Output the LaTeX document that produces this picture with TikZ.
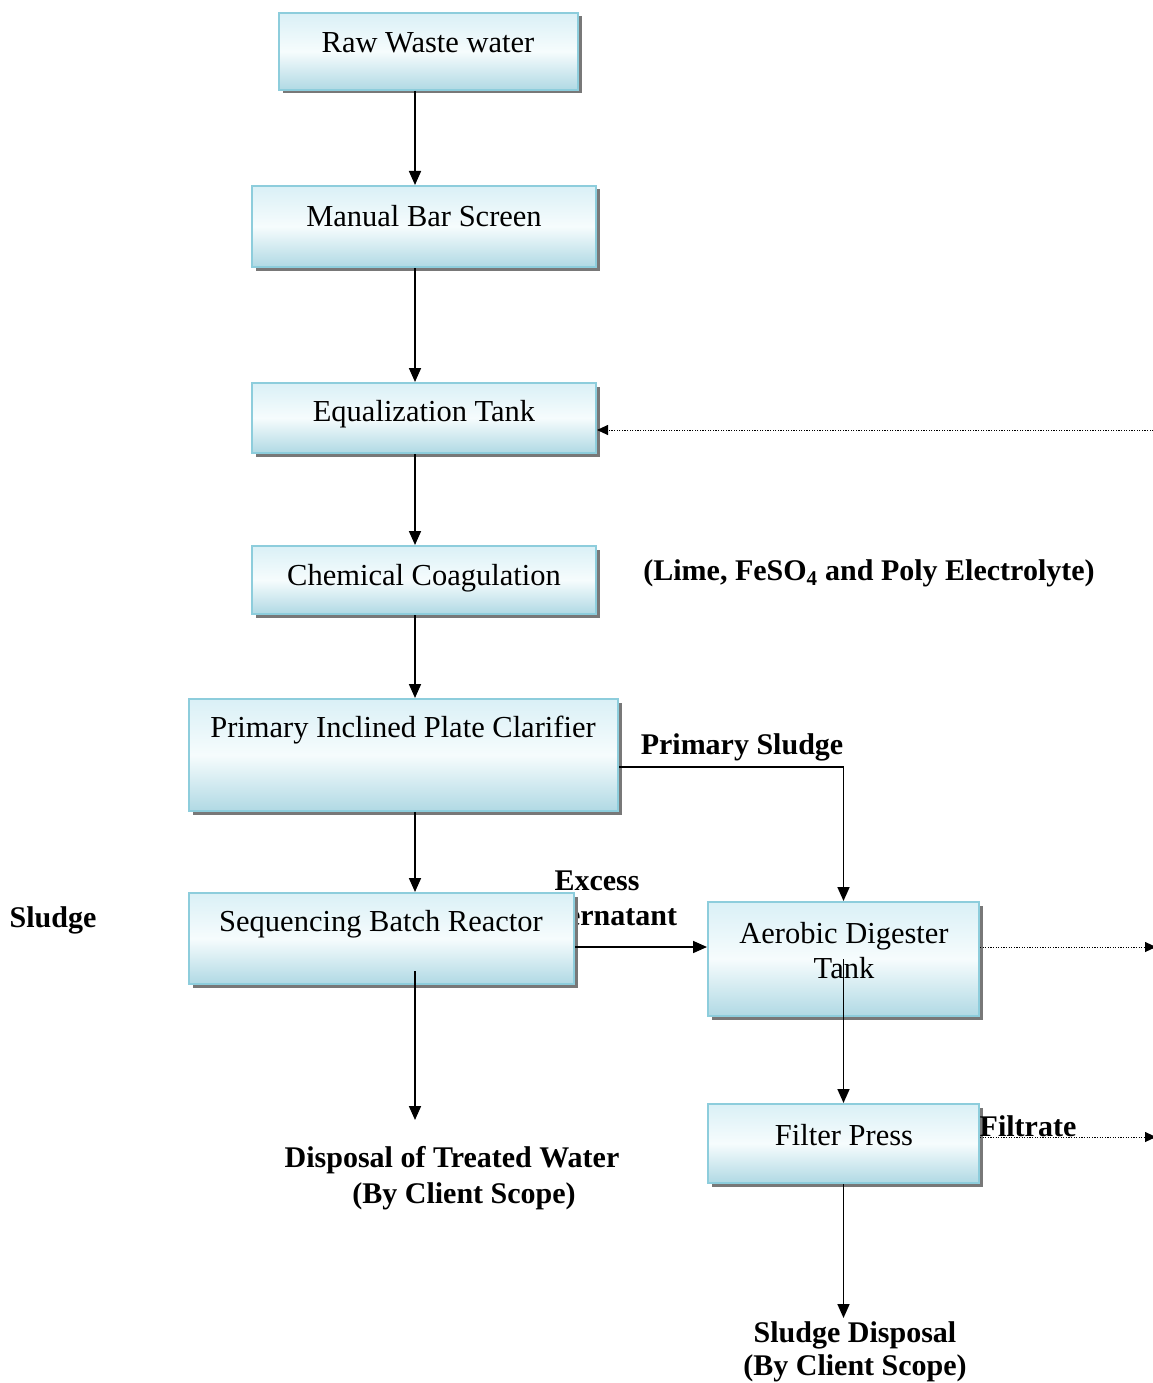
\documentclass[tikz,border=0pt]{standalone}
\usepackage{fontspec}
\setmainfont{Liberation Serif}
\usetikzlibrary{arrows.meta}
\definecolor{boxedge}{RGB}{141,205,220}
\definecolor{boxtop}{RGB}{218,240,246}
\definecolor{boxmid}{RGB}{246,252,253}
\definecolor{boxbot}{RGB}{176,217,228}
\definecolor{shadowc}{RGB}{120,120,120}
% process box: name, left, top, right, bottom (with a hard drop shadow)
\newcommand\procbox[5]{%
  \fill[shadowc] (#2+3.5,#3+3.5) rectangle (#4+3.5,#5+3.5);
  \node[box, minimum width={#4-#2}, minimum height={#5-#3}] (#1) at ({(#2+#4)/2},{(#3+#5)/2}) {};
}
\begin{document}
\begin{tikzpicture}[x=1pt,y=-1pt,
  box/.style={draw=boxedge, line width=2pt, inner sep=0pt, top color=boxtop, bottom color=boxbot, middle color=boxmid},
  txt/.style={font=\fontsize{30.5}{35}\selectfont, inner sep=0pt, align=center},
  lbl/.style={font=\fontsize{30}{35}\selectfont\bfseries, inner sep=0pt, align=center},
  arr/.style={line width=1.7pt, -{Triangle[length=14pt,width=12pt]}},
  darr/.style={line width=0.9pt, dash pattern=on 1.2pt off 1.4pt, -{Triangle[length=11pt,width=10pt]}}]
\useasboundingbox (0,0) rectangle (1152,1383);
\fill[white] (0,0) rectangle (1152,1383);

% label partly covered by the reactor box
\node[lbl] (supern) at (597,901) {Excess\\Supernatant};

% process boxes
\procbox{raw}{279}{13}{578}{90}
\procbox{bar}{252}{186}{596}{267}
\procbox{eq}{252}{383}{596}{453}
\procbox{coag}{252}{546}{596}{614}
\procbox{clar}{189}{699}{618}{811}
\procbox{sbr}{189}{893}{574}{984}
\procbox{aer}{708}{902}{979}{1016}
\procbox{filt}{708}{1104}{979}{1183}

% box texts
\node[txt] (rawt) at (428,43) {Raw Waste water};
\node[txt] (bart) at (424,216) {Manual Bar Screen};
\node[txt] (eqt) at (424,414) {Equalization Tank};
\node[txt] (coagt) at (424,578) {Chemical Coagulation};
\node[txt] (clart) at (403,730) {Primary Inclined Plate Clarifier};
\node[txt] (sbrt) at (381,924) {Sequencing Batch Reactor};
\node[txt] (aert) at (844,951) {Aerobic Digester\\Tank};
\node[txt] (filtt) at (844,1135) {Filter Press};

% free labels
\node[lbl] (sludge) at (53,920) {Sludge};
\node[lbl] (chem) at (869,573) {(Lime, FeSO\textsubscript{4} and Poly Electrolyte)};
\node[lbl] (psl) at (742,747) {Primary Sludge};
\node[lbl] (filtrate) at (1028,1126) {Filtrate};
\node[lbl] (treated) at (452,1160) {Disposal of Treated Water};
\node[lbl] (treated2) at (464,1196) {(By Client Scope)};
\node[lbl] (sdisp) at (855,1335) {Sludge Disposal};
\node[lbl] (sdisp2) at (855,1368) {(By Client Scope)};

% reference points
\coordinate (spine) at (415,0);
\coordinate (pline) at (0,767);
\coordinate (sline) at (0,947);
\coordinate (treatedend) at (415,1120);
\coordinate (sludgeend) at (843.5,1318);
\coordinate (eqin) at (1156,430);
\coordinate (aerout) at (1156,947);
\coordinate (filtout) at (1156,1137);

% main flow
\draw[arr] (raw.south -| spine) -- (bar.north -| spine);
\draw[arr] (bar.south -| spine) -- (eq.north -| spine);
\draw[arr] (eq.south -| spine) -- (coag.north -| spine);
\draw[arr] (coag.south -| spine) -- (clar.north -| spine);
\draw[arr] (clar.south -| spine) -- (sbr.north -| spine);
\draw[arr] ([yshift=14pt]sbr.south -| spine) -- (treatedend);

% sludge line
\draw[arr] (clar.east |- pline) -| (aer.north);
\draw[arr] (sbr.east |- sline) -- (aer.west |- sline);
\draw[arr] (aer.center) -- (filt.north);
\draw[arr] (filt.south) -- (sludgeend);

% return lines
\draw[darr] (eqin) -- (eq.east |- eqin);
\draw[darr] (aer.east |- aerout) -- (aerout);
\draw[darr] (filt.east |- filtout) -- (filtout);
\end{tikzpicture}
\end{document}
